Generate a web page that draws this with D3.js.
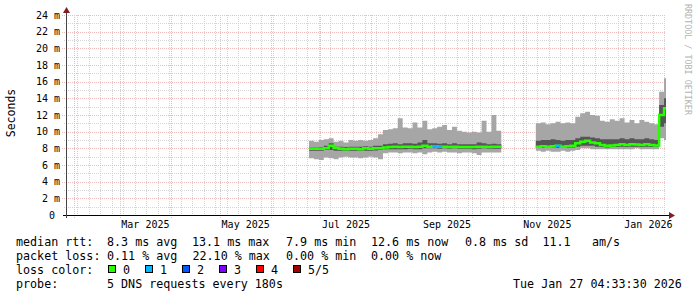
<!DOCTYPE html>
<html>
<head>
<meta charset="utf-8">
<script src="https://cdn.jsdelivr.net/npm/d3@7"></script>
<style>
body{margin:0;background:#fff}
text{font-family:"DejaVu Sans Mono",monospace}
</style>
</head>
<body>
<script>
// smoke data, one bin every 3 days from 2025-06-24, null = no data
var binStart = new Date(2025,5,24)
var binDays = 3
var minRtt = [6.8,6.7,6.6,6.9,6.8,6.7,6.9,7.0,6.9,6.9,6.8,6.9,7.0,6.9,6.7,
  7.4,7.5,7.5,7.4,7.5,7.5,7.4,7.5,7.3,7.5,7.6,7.5,7.6,7.5,7.5,7.4,7.5,7.5,7.4,7.2,7.5,7.5,7.5,7.5,
  null,null,null,null,null,null,null,
  7.7,7.6,7.7,7.6,7.6,7.7,7.6,7.7,7.8,8.0,8.0,7.9,7.9,7.9,7.9,7.9,7.9,7.9,7.9,7.9,8.0,7.9,7.9,7.9,7.9,9.2,9.0]
var lowRtt = [7.7,7.7,7.7,7.8,7.8,7.7,7.7,7.7,7.7,7.7,7.7,7.7,7.7,7.75,7.8,
  7.9,7.9,7.9,7.9,7.9,7.95,7.9,7.9,8.0,8.0,8.0,7.95,8.0,7.95,8.0,7.95,7.95,7.95,7.9,7.95,8.0,7.95,7.95,7.95,
  null,null,null,null,null,null,null,
  8.05,8.05,8.05,8.1,8.05,8.05,8.05,8.1,8.2,8.3,8.3,8.3,8.2,8.15,8.1,8.15,8.15,8.2,8.15,8.2,8.2,8.15,8.2,8.15,8.15,10.6,11.0]
var medRtt = [7.95,7.95,7.95,8.0,8.3,8.05,7.95,7.9,7.95,7.95,7.9,8.0,7.95,8.0,8.0,
  8.1,8.15,8.2,8.15,8.2,8.2,8.15,8.2,8.3,8.2,8.25,8.2,8.2,8.15,8.2,8.15,8.15,8.15,8.15,8.2,8.2,8.15,8.2,8.2,
  null,null,null,null,null,null,null,
  8.2,8.25,8.2,8.25,8.3,8.2,8.25,8.3,8.6,8.8,8.9,8.7,8.6,8.4,8.3,8.35,8.4,8.5,8.4,8.5,8.45,8.4,8.5,8.4,8.35,12.0,12.8]
var highRtt = [8.1,8.1,8.15,8.3,8.6,8.2,8.2,8.15,8.2,8.2,8.2,8.25,8.2,8.3,8.3,
  8.5,8.55,8.6,8.5,8.6,8.6,8.55,8.7,9.0,8.6,8.6,8.55,8.6,8.5,8.6,8.5,8.5,8.5,8.5,8.7,8.6,8.5,8.55,8.5,
  null,null,null,null,null,null,null,
  8.9,9.0,9.0,9.1,9.0,8.9,9.0,9.0,9.2,9.4,9.4,9.3,9.2,9.1,9.1,9.1,9.1,9.2,9.1,9.2,9.1,9.1,9.2,9.1,9.0,13.2,14.0]
var maxRtt = [8.9,8.8,9.0,9.1,9.2,8.8,8.9,8.7,9.0,8.9,9.0,8.9,9.0,9.2,9.7,
  10.2,10.3,10.4,11.6,10.5,10.4,11.1,10.5,11.3,10.3,10.4,10.6,10.8,10.2,10.6,10.1,10.0,9.9,10.0,9.9,11.3,10.0,12.0,10.1,
  null,null,null,null,null,null,null,
  11.0,11.1,10.9,11.0,11.2,11.0,11.1,11.0,11.8,12.2,12.4,12.0,11.9,11.3,11.2,11.5,11.3,11.6,11.1,11.4,11.0,11.4,11.2,11.0,10.9,14.8,16.4]
var lossCount = [0,0,0,0,0,0,0,0,0,0,0,0,0,0,0,
  0,0,0,0,0,0,0,0,0,0,1,1,0,0,0,0,0,0,0,0,0,0,0,0,
  null,null,null,null,null,null,null,
  0,0,0,0,1,0,0,0,0,0,0,0,0,0,0,0,0,0,0,0,0,0,0,0,0,0,0]

var yTicks = [0,2,4,6,8,10,12,14,16,18,20,22,24]
var lossNames = ["0","1","2","3","4","5/5"]
var lossColors = ["#26ff00","#00b8ff","#0059ff","#7e00ff","#ff0000","#a10000"]
var rttStats = ["8.3 ms avg","13.1 ms max","7.9 ms min","12.6 ms now","0.8 ms sd"]
var lossStats = ["0.11 % avg","22.10 % max","0.00 % min","0.00 % now"]
var amValue = "11.1"
var probeText = "5 DNS requests every 180s"
var stampText = "Tue Jan 27 04:33:30 2026"

var W = 697, H = 297
var startT = new Date(2025,0,27,4,33,30), endT = new Date(2026,0,27,4,33,30)

var svg = d3.select("body").append("svg")
    .attr("width",W).attr("height",H)
    .style("background","#fff")

var x = d3.scaleTime().domain([startT,endT]).range([66,666])
var y = d3.scaleLinear().domain([0,24]).range([215,15])

var minorCol = "#d4d4d4", majorCol = "#eebcbc"

// grid
var weeks = d3.timeMonday.range(startT,endT)
svg.selectAll(".vmin").data(weeks).enter().append("line")
    .attr("x1",d=>Math.round(x(d))+0.5).attr("x2",d=>Math.round(x(d))+0.5)
    .attr("y1",15).attr("y2",215)
    .attr("stroke",minorCol).attr("stroke-dasharray","1,1")
var hmin = d3.range(1,24,2)
svg.selectAll(".hmin").data(hmin).enter().append("line")
    .attr("x1",64).attr("x2",666)
    .attr("y1",d=>Math.round(y(d))+0.5).attr("y2",d=>Math.round(y(d))+0.5)
    .attr("stroke",minorCol).attr("stroke-dasharray","1,1")
var months = d3.timeMonth.range(startT,endT)
svg.selectAll(".vmaj").data(months).enter().append("line")
    .attr("x1",d=>Math.round(x(d))+0.5).attr("x2",d=>Math.round(x(d))+0.5)
    .attr("y1",15).attr("y2",219)
    .attr("stroke",majorCol).attr("stroke-dasharray","1,1")
svg.selectAll(".hmaj").data(yTicks.filter(d=>d>0)).enter().append("line")
    .attr("x1",62).attr("x2",666)
    .attr("y1",d=>Math.round(y(d))+0.5).attr("y2",d=>Math.round(y(d))+0.5)
    .attr("stroke",majorCol).attr("stroke-dasharray","1,1")

// bins -> step points
var bins = []
for(i=0;i<minRtt.length;i++){
    var t0 = d3.timeDay.offset(binStart,i*binDays)
    var t1 = d3.timeDay.offset(binStart,(i+1)*binDays)
    if(t1 > endT) t1 = endT
    bins.push({t0:t0,t1:t1,min:minRtt[i],low:lowRtt[i],med:medRtt[i],high:highRtt[i],max:maxRtt[i],loss:lossCount[i]})
}
var pts = []
bins.forEach(function(b){
    pts.push({t:b.t0,b:b})
    pts.push({t:b.t1,b:b})
})

var outer = d3.area().defined(d=>d.b.min!=null)
    .x(d=>x(d.t)).y0(d=>y(d.b.min)).y1(d=>y(d.b.max))
var inner = d3.area().defined(d=>d.b.min!=null)
    .x(d=>x(d.t)).y0(d=>y(d.b.low)).y1(d=>y(d.b.high))
svg.append("path").attr("d",outer(pts)).attr("fill","#a6a6a6")
svg.append("path").attr("d",inner(pts)).attr("fill","#555555")

// median line, coloured by loss
var medLine = d3.line().defined(d=>d.b.med!=null).x(d=>x(d.t)).y(d=>y(d.b.med))
svg.append("path").attr("d",medLine(pts)).attr("fill","none")
    .attr("stroke",lossColors[0]).attr("stroke-width",2.5)
svg.selectAll(".loss").data(bins.filter(b=>b.loss>0)).enter().append("line")
    .attr("x1",d=>x(d.t0)).attr("x2",d=>x(d.t1))
    .attr("y1",d=>y(d.med)).attr("y2",d=>y(d.med))
    .attr("stroke",d=>lossColors[d.loss]).attr("stroke-width",2.5)

// axes
svg.append("line").attr("x1",63).attr("x2",670).attr("y1",215.5).attr("y2",215.5)
    .attr("stroke","#000")
svg.append("line").attr("x1",66.5).attr("x2",66.5).attr("y1",11).attr("y2",218)
    .attr("stroke","#444")
svg.append("path").attr("d","M669,212L675,215.5L669,219Z").attr("fill","#801f1f")
svg.append("path").attr("d","M63,13L66.5,7L70,13Z").attr("fill","#801f1f")

// tick labels
svg.selectAll(".ylab").data(yTicks).enter().append("text")
    .attr("x",d=>d==0?55:60).attr("y",d=>y(d)+3.5)
    .attr("text-anchor","end").attr("font-size","10px").attr("fill","#000")
    .text(d=>d==0?"0":d+" m")
var labMonths = d3.timeMonth.every(2).range(startT,endT)
svg.selectAll(".xlab").data(labMonths).enter().append("text")
    .attr("x",d=>(x(d)+x(d3.timeMonth.offset(d,1)))/2).attr("y",228)
    .attr("text-anchor","middle").attr("font-size","10px")
    .text(d=>d3.timeFormat("%b %Y")(d))

svg.append("text").attr("transform","translate(15,113) rotate(-90)")
    .attr("text-anchor","middle").attr("font-size","11.5px").text("Seconds")
svg.append("text").attr("transform","translate(685,4) rotate(90)")
    .attr("font-size","8.4px").attr("fill","#b4b4b4").text("RRDTOOL / TOBI OETIKER")

// legend
var fs = "11.7px"
function lt(xp,yp,s){
    return svg.append("text").attr("x",xp).attr("y",yp).attr("font-size",fs)
        .style("white-space","pre").text(s)
}
var rows = [245.5,259.5,273.5,287.5]
lt(16,rows[0],"median rtt:")
var rttX = [107,192,286,371,465]
rttStats.forEach((s,i)=>lt(rttX[i],rows[0],s))
lt(542.5,rows[0],amValue)
lt(592,rows[0],"am/s")
lt(16,rows[1],"packet loss:")
var lossX = [107,192.5,286,371]
lossStats.forEach((s,i)=>lt(lossX[i],rows[1],s))
lt(16,rows[2],"loss color:")
var boxX = [108.5,145.5,182.5,219.5,256.5,293.5]
svg.selectAll(".lbox").data(lossColors).enter().append("rect")
    .attr("x",(d,i)=>boxX[i]).attr("y",265.5).attr("width",7).attr("height",7)
    .attr("fill",d=>d).attr("stroke","#000").attr("stroke-width",1)
lossNames.forEach((s,i)=>lt(boxX[i]+14.5,rows[2],s))
lt(16,rows[3],"probe:")
lt(107,rows[3],probeText)
lt(513,rows[3],stampText)
</script>
</body>
</html>
